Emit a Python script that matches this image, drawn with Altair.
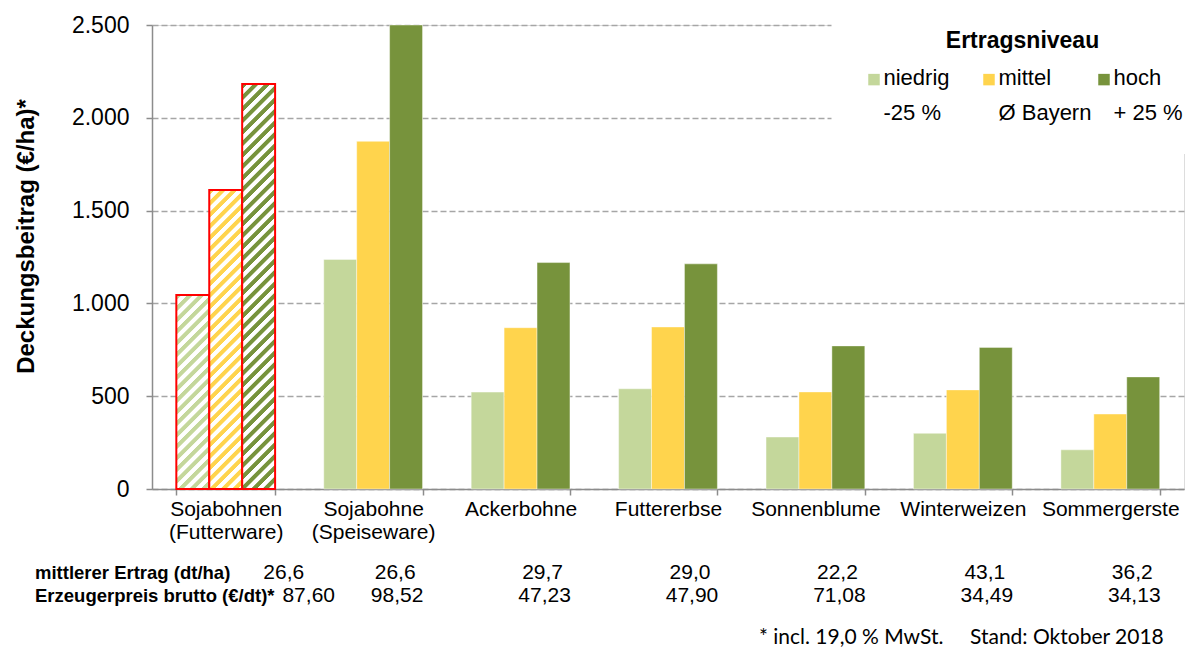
import math
import altair as alt
import pandas as pd

# ---------------- data ----------------
kulturen = ["Sojabohnen (Futterware)", "Sojabohne (Speiseware)", "Ackerbohne",
            "Futtererbse", "Sonnenblume", "Winterweizen", "Sommergerste"]
niveaus = ["niedrig", "mittel", "hoch"]
abweichung = ["-25 %", "Ø Bayern", "+ 25 %"]
db_niedrig = [1045, 1237, 522, 540, 280, 300, 211]
db_mittel = [1611, 1873, 869, 873, 523, 534, 404]
db_hoch = [2182, 2500, 1220, 1213, 771, 763, 604]
ertrag = ["26,6", "26,6", "29,7", "29,0", "22,2", "43,1", "36,2"]
preis = ["87,60", "98,52", "47,23", "47,90", "71,08", "34,49", "34,13"]
zeilen = ["mittlerer Ertrag (dt/ha)", "Erzeugerpreis brutto (€/dt)*"]
fussnote = "* incl. 19,0 % MwSt."
stand = "Stand: Oktober 2018"
y_ticks = [0, 500, 1000, 1500, 2000, 2500]
farben = ["#C4D79B", "#FFD44D", "#77933C"]

rows = []
for i, k in enumerate(kulturen):
    for n, vals in zip(niveaus, [db_niedrig, db_mittel, db_hoch]):
        rows.append({"Kultur": k, "Niveau": n, "DB": vals[i]})
df = pd.DataFrame(rows)
df_tab = pd.DataFrame({"Kultur": kulturen, "Ertrag": ertrag, "Preis": preis})

# ---------------- layout / style ----------------
W, H = 1032, 464
Y_MAX = 2500
PAD_INNER = 0.33
FONT = "Liberation Sans"
GRAY = "#8C8C8C"
step = W / len(kulturen)
bar_w = step * (1 - PAD_INNER) / len(niveaus)


def schraffur(farbe, wert, periode=11.5, anteil=0.42, weich=0.08):
    """diagonal hatch as a striped linear gradient (objectBoundingBox units)"""
    w = bar_w
    h = wert * H / Y_MAX
    s = (w + h) / (w * w + h * h)
    n = (w + h) / periode
    stops = []
    k = 0
    while k < n:
        pts = [(k / n, farbe), ((k + anteil) / n, farbe),
               ((k + anteil + weich) / n, "#FFFFFF"), ((k + 1 - weich) / n, "#FFFFFF")]
        for o, c in pts:
            stops.append(alt.GradientStop(offset=min(o, 1.0), color=c))
        k += 1
    return alt.LinearGradient(gradient="linear", stops=stops,
                              x1=0, y1=0, x2=s * w, y2=s * h)


label_expr_x = ("indexof(datum.label, ' (') > 0 ? "
                "[substring(datum.label, 0, indexof(datum.label, ' (')), "
                "substring(datum.label, indexof(datum.label, ' (') + 1)] : datum.label")

x_scale = alt.Scale(domain=kulturen, paddingInner=PAD_INNER, paddingOuter=PAD_INNER / 2)

x_enc = alt.X("Kultur:N", title=None, scale=x_scale,
              axis=alt.Axis(labelExpr=label_expr_x, labelAngle=0, labelFont=FONT,
                            labelFontSize=21, labelColor="#000000", labelLineHeight=23,
                            labelBaseline="top", labelPadding=3, labelLimit=300,
                            tickSize=6, tickBand="extent", tickColor=GRAY, tickWidth=1.5,
                            domainColor=GRAY, domainWidth=1.5, grid=False))
xoff_enc = alt.XOffset("Niveau:N", scale=alt.Scale(domain=niveaus, paddingInner=0, paddingOuter=0))
y_enc = alt.Y("DB:Q", scale=alt.Scale(domain=[0, Y_MAX], nice=False),
              axis=alt.Axis(values=y_ticks,
                            labelExpr="replace(format(datum.value, ','), ',', '.')",
                            labelFont=FONT, labelFontSize=23, labelColor="#000000",
                            labelPadding=17, tickSize=6, tickColor=GRAY, tickWidth=1.5,
                            domainColor=GRAY, domainWidth=1.5,
                            gridColor="#A6A6A6", gridDash=[6, 3], gridWidth=1.5,
                            title="Deckungsbeitrag (€/ha)*", titleFont=FONT,
                            titleFontSize=24, titleFontWeight="bold", titleColor="#000000",
                            titleX=-114, titleY=211))

legend_expr = " : ".join(
    f"datum.label == '{n}' ? ['{n}', '{a}']" for n, a in zip(niveaus, abweichung)
) + " : datum.label"

legend = alt.Legend(title="Ertragsniveau", orient="none", legendX=679.5, legendY=-25,
                    direction="horizontal", columns=3, gridAlign="all", columnPadding=0,
                    rowPadding=0, labelOffset=0, symbolType="M-0.74,1.02H1.26V3.02H-0.74Z",
                    symbolSize=132, symbolStrokeWidth=0, labelFont=FONT, labelFontSize=22,
                    labelColor="#000000", labelBaseline="top", labelExpr=legend_expr,
                    labelLimit=300, titleFont=FONT, titleFontSize=23, titleFontWeight="bold",
                    titleColor="#000000", titleAnchor="middle", titlePadding=4,
                    fillColor="#FFFFFF", padding=30)

base = alt.Chart(df).encode(x=x_enc, xOffset=xoff_enc, y=y_enc)

bars = base.transform_filter(alt.datum.Kultur != kulturen[0]).mark_bar(
    stroke="#FFFFFF", strokeWidth=0.6, strokeOpacity=0.7
).encode(color=alt.Color("Niveau:N", scale=alt.Scale(domain=niveaus, range=farben), legend=legend))

hatched = []
for n, farbe, vals in zip(niveaus, farben, [db_niedrig, db_mittel, db_hoch]):
    hatched.append(
        base.transform_filter((alt.datum.Kultur == kulturen[0]) & (alt.datum.Niveau == n))
        .mark_bar(fill=schraffur(farbe, vals[0]), stroke="#FF0000", strokeWidth=2)
    )

x_tab = alt.X("Kultur:N", title=None, scale=x_scale)
tab = alt.Chart(df_tab)


def tab_layer(field, y, dx_first, dx_rest):
    first = tab.transform_filter(alt.datum.Kultur == kulturen[0]).mark_text(
        font=FONT, fontSize=21, color="#000000", dx=dx_first
    ).encode(x=x_tab, y=alt.value(y), text=f"{field}:N")
    rest = tab.transform_filter(alt.datum.Kultur != kulturen[0]).mark_text(
        font=FONT, fontSize=21, color="#000000", dx=dx_rest
    ).encode(x=x_tab, y=alt.value(y), text=f"{field}:N")
    return [first, rest]


row_y = [548, 571]
tab_layers = tab_layer("Ertrag", row_y[0], 58, 22) + tab_layer("Preis", row_y[1], 83, 24)

row_labels = []
for z, yy in zip(zeilen, row_y):
    row_labels.append(
        alt.Chart(pd.DataFrame({"t": [z]})).mark_text(
            font=FONT, fontSize=18.5, fontWeight="bold", color="#000000", align="left"
        ).encode(x=alt.value(-117), y=alt.value(yy), text="t:N")
    )

foot = []
for t, xx in zip([fussnote, stand], [607, 818]):
    foot.append(
        alt.Chart(pd.DataFrame({"t": [t]})).mark_text(
            font="Lato", fontSize=21, color="#000000", align="left"
        ).encode(x=alt.value(xx), y=alt.value(613), text="t:N")
    )

chart = alt.layer(bars, *hatched, *tab_layers, *row_labels, *foot).properties(
    width=W, height=H,
    padding={"left": 152, "top": 25, "right": 2, "bottom": 161},
    autosize=alt.AutoSizeParams(type="none"),
).configure_view(strokeWidth=0).configure(
    font=FONT, style={"guide-label": {"lineHeight": 35}}
)

chart.save("out.html", embed_options={"renderer": "svg", "actions": False})
